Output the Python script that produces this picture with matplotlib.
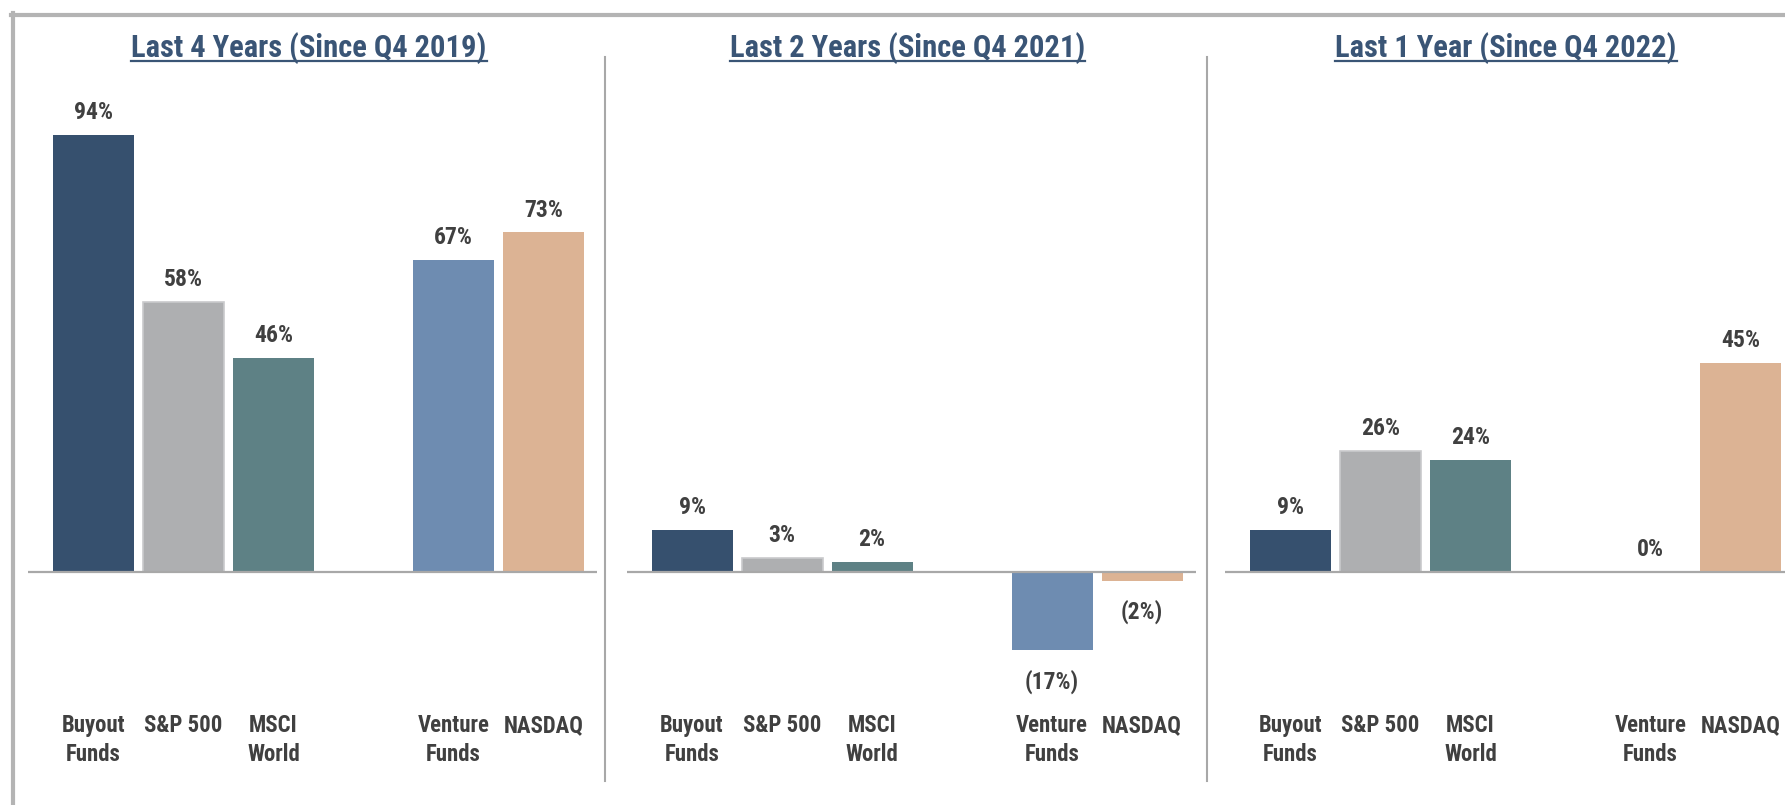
import matplotlib
matplotlib.use("Agg")
import matplotlib.pyplot as plt
from matplotlib import font_manager
from matplotlib.lines import Line2D
from matplotlib.transforms import blended_transform_factory

# ── Data ───────────────────────────────────────────────────────────────────────
PANEL_TITLES = ["Last 4 Years (Since Q4 2019)",
                "Last 2 Years (Since Q4 2021)",
                "Last 1 Year (Since Q4 2022)"]
CATEGORIES   = ["Buyout\nFunds", "S&P 500", "MSCI\nWorld", "Venture\nFunds", "NASDAQ"]
SLOTS        = [0, 1, 2, 4, 5]          # gap between public / venture group
RET_4Y       = [94, 58, 46, 67, 73]
RET_2Y       = [9, 3, 2, -17, -2]
RET_1Y       = [9, 26, 24, 0, 45]
RETURNS      = [RET_4Y, RET_2Y, RET_1Y]

COLORS  = ["#36506e", "#aeafb1", "#5e8185", "#6e8cb1", "#dcb394"]
EDGES   = ["none", "#c9cacc", "none", "none", "none"]
TXT     = "#404040"
TITLE_C = "#3a5576"
GRID_C  = "#a8a8a8"

# narrow bold face if one is installed (reference uses Arial Narrow Bold)
bold_faces = {f.name for f in font_manager.fontManager.ttflist if f.weight in (600, 700, "bold")}
FONT = "Liberation Sans"
for cand in ["Liberation Sans Narrow", "Arial Narrow", "Roboto Condensed",
             "Archivo Narrow", "Asap Condensed"]:
    if cand in bold_faces:
        FONT = cand
        break
plt.rcParams["font.family"] = [FONT, "DejaVu Sans"]

# ── Layout (pixels) ─────────────────────────────────────────────────────────────
W, H = 1785, 805
PANEL_W   = 569
PANEL_X0  = 28
PANEL_DX  = 598.5
TOP_PX, BOT_PX = 100, 790
BASE_PX   = 571.5
PX_PER_PCT = 4.644

fig = plt.figure(figsize=(W / 100, H / 100), dpi=100)
fig.patch.set_facecolor("white")

def fx(px): return px / W
def fy(py): return (H - py) / H

ylim = (-(BOT_PX - BASE_PX) / PX_PER_PCT, (BASE_PX - TOP_PX) / PX_PER_PCT)

title_texts = []
for i, (title, vals) in enumerate(zip(PANEL_TITLES, RETURNS)):
    left = PANEL_X0 + PANEL_DX * i
    ax = fig.add_axes([fx(left), fy(BOT_PX), PANEL_W / W, (BOT_PX - TOP_PX) / H])
    ax.set_xlim(-0.728, 5.594)
    ax.set_ylim(*ylim)
    ax.axis("off")

    ax.bar(SLOTS, vals, width=0.9, color=COLORS, edgecolor=EDGES, linewidth=1.2, zorder=2)
    ax.axhline(0, color=GRID_C, lw=1.6, zorder=3)

    for x, v in zip(SLOTS, vals):
        if v < 0:
            ax.annotate(f"({abs(v)}%)", (x, v), xytext=(0, -13.5), textcoords="offset points",
                        ha="center", va="top", fontsize=17, fontweight="bold", color=TXT)
        else:
            ax.annotate(f"{v}%", (x, v), xytext=(0, 11.5), textcoords="offset points",
                        ha="center", va="baseline", fontsize=17, fontweight="bold", color=TXT)

    trans = blended_transform_factory(ax.transData, ax.transAxes)
    for x, cat in zip(SLOTS, CATEGORIES):
        for k, line in enumerate(cat.split("\n")):
            y_px = 732 + 29 * k
            ax.text(x, (BOT_PX - y_px) / (BOT_PX - TOP_PX), line, transform=trans,
                    ha="center", va="baseline", fontsize=16.4, fontweight="bold", color=TXT)

    t = fig.text(fx(309 + PANEL_DX * i), fy(57), title, ha="center", va="baseline",
                 fontsize=22, fontweight="bold", color=TITLE_C)
    title_texts.append(t)

# underline the titles
fig.canvas.draw()
r = fig.canvas.get_renderer()
for t in title_texts:
    bb = t.get_window_extent(renderer=r)
    fig.add_artist(Line2D([bb.x0 / W, bb.x1 / W], [fy(61.5)] * 2,
                          transform=fig.transFigure, color=TITLE_C, lw=1.6))

# panel dividers
for xp in [604.5, 1207]:
    fig.add_artist(Line2D([fx(xp)] * 2, [fy(57), fy(781)], transform=fig.transFigure,
                          color=GRID_C, lw=1.5))

# outer frame (top + left visible)
fig.add_artist(Line2D([fx(13), fx(13)], [fy(13), 0], transform=fig.transFigure,
                      color="#b4b4b4", lw=3))
fig.add_artist(Line2D([fx(11), 1], [fy(15), fy(15)], transform=fig.transFigure,
                      color="#b4b4b4", lw=3))

plt.savefig("out.png", dpi=100)
